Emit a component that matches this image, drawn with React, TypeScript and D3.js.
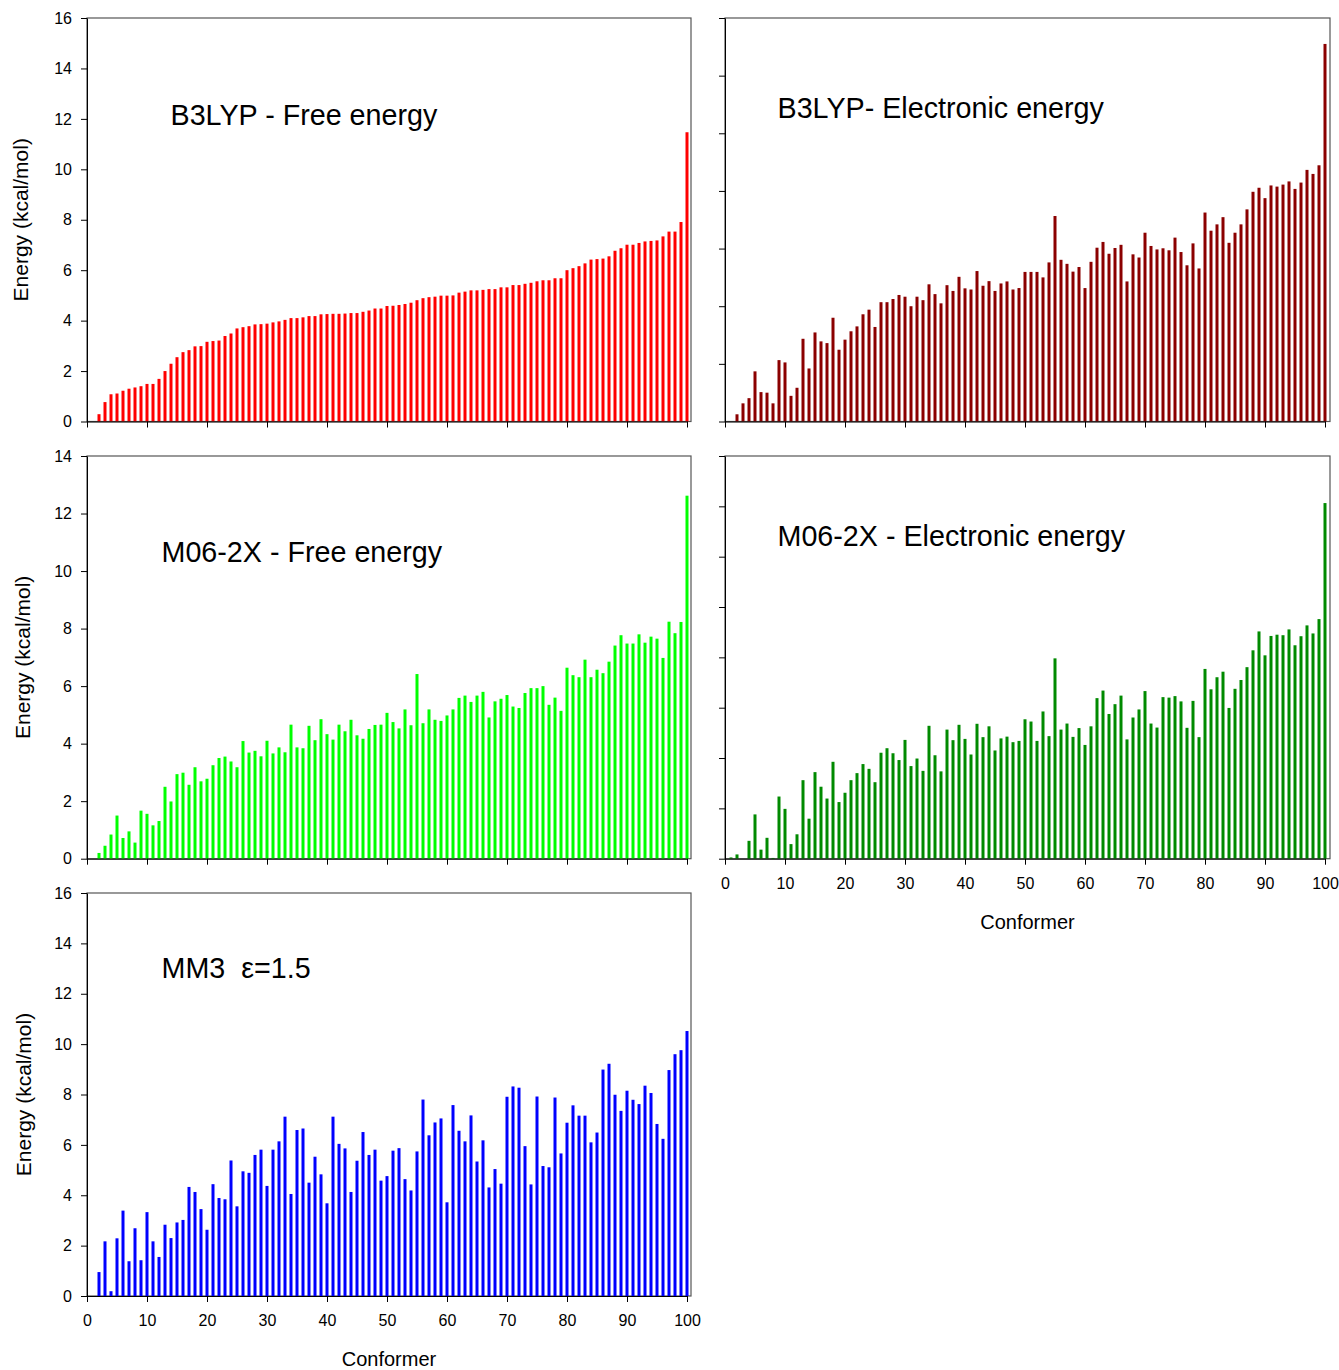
import React, { useEffect, useRef } from 'react';
import * as d3 from 'd3';

// conformer index 1..100
const conformers = d3.range(1, 101);
const xTicks = d3.range(0, 101, 10);

const b3lypFree = [
  0, 0.29, 0.77, 1.08, 1.11, 1.22, 1.30, 1.35, 1.40, 1.49,
  1.49, 1.69, 2.00, 2.29, 2.55, 2.75, 2.83, 2.98, 2.99, 3.16,
  3.19, 3.21, 3.39, 3.49, 3.69, 3.74, 3.78, 3.85, 3.86, 3.88,
  3.93, 3.97, 4.03, 4.10, 4.10, 4.13, 4.18, 4.18, 4.25, 4.26,
  4.27, 4.27, 4.28, 4.30, 4.30, 4.35, 4.40, 4.48, 4.48, 4.58,
  4.59, 4.62, 4.66, 4.71, 4.81, 4.89, 4.93, 4.95, 4.99, 4.99,
  5.00, 5.11, 5.15, 5.20, 5.20, 5.22, 5.25, 5.25, 5.32, 5.32,
  5.41, 5.41, 5.46, 5.50, 5.56, 5.60, 5.60, 5.68, 5.68, 6.00,
  6.08, 6.16, 6.27, 6.42, 6.44, 6.46, 6.55, 6.77, 6.87, 7.01,
  7.01, 7.08, 7.14, 7.16, 7.18, 7.34, 7.53, 7.53, 7.91, 11.47,
];

const b3lypElec = [
  0, 0.25, 0.63, 0.81, 1.74, 1.02, 1.00, 0.63, 2.13, 2.05,
  0.89, 1.17, 2.87, 1.84, 3.09, 2.78, 2.72, 3.60, 2.49, 2.84,
  3.13, 3.30, 3.72, 3.88, 3.28, 4.14, 4.14, 4.25, 4.39, 4.33,
  4.00, 4.33, 4.21, 4.76, 4.42, 4.10, 4.73, 4.53, 5.02, 4.62,
  4.58, 5.22, 4.71, 4.87, 4.53, 4.79, 4.86, 4.58, 4.63, 5.19,
  5.19, 5.19, 5.00, 5.52, 7.13, 5.61, 5.47, 5.20, 5.36, 4.63,
  5.54, 6.03, 6.23, 5.82, 6.02, 6.13, 4.86, 5.80, 5.69, 6.55,
  6.09, 5.97, 6.01, 5.94, 6.38, 5.88, 5.42, 6.18, 5.31, 7.25,
  6.62, 6.84, 7.09, 6.20, 6.55, 6.84, 7.36, 7.97, 8.11, 7.75,
  8.19, 8.15, 8.22, 8.33, 8.07, 8.29, 8.73, 8.59, 8.89, 13.10,
];

const m062xFree = [
  0, 0.20, 0.45, 0.84, 1.50, 0.72, 0.95, 0.56, 1.67, 1.56,
  1.16, 1.31, 2.50, 1.99, 2.94, 2.99, 2.57, 3.18, 2.69, 2.78,
  3.25, 3.50, 3.55, 3.38, 3.18, 4.09, 3.69, 3.75, 3.56, 4.10,
  3.66, 3.87, 3.70, 4.66, 3.87, 3.84, 4.62, 4.12, 4.85, 4.33,
  4.14, 4.66, 4.43, 4.83, 4.29, 4.17, 4.51, 4.65, 4.66, 5.07,
  4.75, 4.53, 5.19, 4.64, 6.42, 4.71, 5.19, 4.83, 4.79, 4.98,
  5.19, 5.59, 5.67, 5.45, 5.67, 5.80, 4.91, 5.47, 5.56, 5.69,
  5.29, 5.24, 5.76, 5.93, 5.93, 6.00, 5.35, 5.60, 5.14, 6.64,
  6.38, 6.31, 6.92, 6.31, 6.57, 6.45, 6.85, 7.41, 7.77, 7.48,
  7.48, 7.80, 7.51, 7.72, 7.65, 6.98, 8.24, 7.84, 8.23, 12.62,
];

const m062xElec = [
  0.05, 0.17, 0, 0.71, 1.76, 0.36, 0.83, 0.03, 2.47, 1.98,
  0.58, 0.97, 3.12, 1.59, 3.44, 2.86, 2.39, 3.85, 2.25, 2.62,
  3.12, 3.40, 3.76, 3.57, 3.04, 4.21, 4.39, 4.19, 3.92, 4.72,
  3.68, 3.98, 3.49, 5.28, 4.11, 3.47, 5.13, 4.71, 5.32, 4.76,
  4.14, 5.36, 4.83, 5.26, 4.30, 4.78, 4.85, 4.63, 4.68, 5.54,
  5.45, 4.68, 5.85, 4.87, 7.96, 5.13, 5.37, 4.84, 5.19, 4.52,
  5.26, 6.38, 6.68, 5.75, 6.14, 6.48, 4.74, 5.61, 5.93, 6.66,
  5.37, 5.21, 6.42, 6.40, 6.46, 6.25, 5.20, 6.27, 4.83, 7.54,
  6.73, 7.21, 7.43, 5.99, 6.75, 7.10, 7.61, 8.28, 9.03, 8.08,
  8.85, 8.90, 8.88, 9.11, 8.48, 8.84, 9.27, 8.95, 9.52, 14.13,
];

const mm3 = [
  0, 0.95, 2.17, 0.19, 2.29, 3.39, 1.38, 2.69, 1.42, 3.33,
  2.17, 1.55, 2.83, 2.30, 2.92, 3.02, 4.33, 4.13, 3.45, 2.63,
  4.44, 3.89, 3.84, 5.38, 3.56, 4.95, 4.89, 5.60, 5.81, 4.37,
  5.81, 6.14, 7.12, 4.05, 6.59, 6.65, 4.50, 5.53, 4.83, 3.68,
  7.12, 6.04, 5.86, 4.13, 5.37, 6.51, 5.60, 5.81, 4.58, 4.76,
  5.77, 5.87, 4.64, 4.19, 5.74, 7.80, 6.38, 6.89, 7.05, 3.72,
  7.58, 6.56, 6.14, 7.17, 5.34, 6.18, 4.31, 5.04, 4.46, 7.91,
  8.32, 8.27, 5.95, 4.43, 7.92, 5.16, 5.11, 7.88, 5.66, 6.88,
  7.57, 7.16, 7.16, 6.10, 6.49, 8.99, 9.22, 7.99, 7.35, 8.15,
  7.79, 7.62, 8.35, 8.06, 6.83, 6.24, 8.97, 9.60, 9.76, 10.52,
];

const FONT = 'Arial, "Liberation Sans", sans-serif';

type PanelProps = {
  left: number;
  top: number;
  w: number;
  h: number;
  yMax: number;
  values: number[];
  color: string;
  title: string;
  titleX: number;
  titleY: number;
  yLabels: boolean;
  xLabels: boolean;
  yTitleX?: number;
};

const Panel = (p: PanelProps) => {
  const yRef = useRef<SVGGElement>(null);
  const xRef = useRef<SVGGElement>(null);

  const x = d3.scaleLinear().domain([0, 100]).range([0, 600]);
  const y = d3.scaleLinear().domain([0, p.yMax]).range([p.h, 0]);

  useEffect(() => {
    const yAxis = d3.axisLeft(y)
      .tickValues(d3.range(0, p.yMax + 1, 2))
      .tickSize(6)
      .tickSizeOuter(0)
      .tickPadding(9)
      .tickFormat((d: any) => (p.yLabels ? String(d) : ''));
    const xAxis = d3.axisBottom(x)
      .tickValues(xTicks)
      .tickSize(6)
      .tickSizeOuter(0)
      .tickPadding(12.5)
      .tickFormat((d: any) => (p.xLabels ? String(d) : ''));

    const style = (g: any) => {
      g.attr('font-family', FONT).attr('font-size', 16);
      g.select('.domain').attr('stroke', '#000');
      g.selectAll('.tick line').attr('stroke', '#000');
      g.selectAll('.tick text').attr('fill', '#000');
    };
    d3.select(yRef.current).call(yAxis as any).call(style);
    d3.select(xRef.current).call(xAxis as any).call(style);
  }, []);

  return (
    <g>
      <g transform={`translate(${p.left},${p.top})`}>
        <rect x={0} y={0} width={p.w} height={p.h} fill="none" stroke="#555" strokeWidth={1.2} />
        {conformers.map((c, i) => {
          const v = p.values[i];
          if (!v) return null;
          return (
            <rect
              key={c}
              x={x(c) - 1.5}
              y={y(v)}
              width={3}
              height={p.h - y(v)}
              fill={p.color}
            />
          );
        })}
        <g ref={yRef} />
        <g ref={xRef} transform={`translate(0,${p.h})`} />
        {p.xLabels && (
          <text
            x={p.w / 2}
            y={p.h + 70}
            textAnchor="middle"
            fontFamily={FONT}
            fontSize={20}
          >
            Conformer
          </text>
        )}
      </g>
      {p.yTitleX !== undefined && (
        <text
          transform={`translate(${p.yTitleX},${p.top + p.h / 2}) rotate(-90)`}
          textAnchor="middle"
          fontFamily={FONT}
          fontSize={21}
        >
          Energy (kcal/mol)
        </text>
      )}
      <text
        x={p.titleX}
        y={p.titleY}
        fontFamily={FONT}
        fontSize={28.7}
        style={{ whiteSpace: 'pre' }}
      >
        {p.title}
      </text>
    </g>
  );
};

export default function App() {
  return (
    <svg
      width={1339}
      height={1370}
      style={{ position: 'absolute', left: 0, top: 0, background: '#fff' }}
    >
      <Panel left={87} top={18} w={604} h={403.5} yMax={16} values={b3lypFree} color="#ff0000"
        title="B3LYP - Free energy" titleX={170.5} titleY={125} yLabels xLabels={false} yTitleX={28} />
      <Panel left={725} top={18} w={605} h={403.5} yMax={14} values={b3lypElec} color="#8b0000"
        title="B3LYP- Electronic energy" titleX={777.5} titleY={118} yLabels={false} xLabels={false} />
      <Panel left={87} top={456} w={604} h={402.7} yMax={14} values={m062xFree} color="#00ff00"
        title="M06-2X - Free energy" titleX={161.5} titleY={562} yLabels xLabels={false} yTitleX={30} />
      <Panel left={725} top={456} w={605} h={402.7} yMax={16} values={m062xElec} color="#008a00"
        title="M06-2X - Electronic energy" titleX={777.5} titleY={546} yLabels={false} xLabels />
      <Panel left={87} top={893} w={604} h={403} yMax={16} values={mm3} color="#0000ff"
        title={'MM3  \u03b5=1.5'} titleX={161.5} titleY={978} yLabels xLabels yTitleX={31} />
    </svg>
  );
}
